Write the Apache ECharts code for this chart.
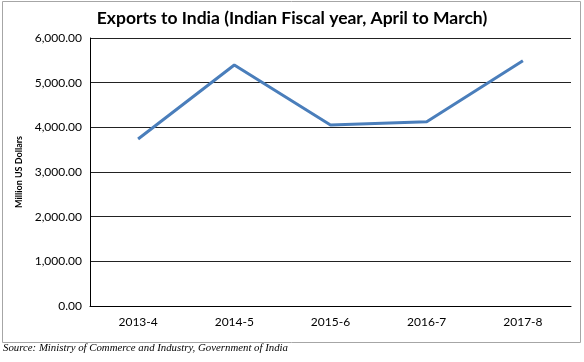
<!DOCTYPE html>
<html><head><meta charset="utf-8">
<script src="https://cdn.jsdelivr.net/npm/echarts@6/dist/echarts.min.js"></script>
<style>html,body{margin:0;padding:0;background:#fff}#c{width:584px;height:362px}</style>
</head><body><div id="c"></div>
<script>
var categories = ["2013-4", "2014-5", "2015-6", "2016-7", "2017-8"];
var exportsValues = [3740, 5395, 4050, 4125, 5490];
var yTicks = [0, 1000, 2000, 3000, 4000, 5000, 6000];
var titleText = "Exports to India (Indian Fiscal year, April to March)";
var yAxisName = "Million US Dollars";
var sourceText = "Source: Ministry of Commerce and Industry, Government of India";

var chart = echarts.init(document.getElementById('c'), null, {renderer: 'canvas'});
chart.setOption({
  animation: false,
  backgroundColor: '#fff',
  title: {
    text: titleText, left: 'center', top: 4,
    textStyle: {fontFamily: 'Lato', fontWeight: 'bold', fontSize: 17.5, color: '#000'}
  },
  grid: {left: 90, right: 13, top: 38, bottom: 56, containLabel: false},
  xAxis: {
    type: 'category', data: categories, boundaryGap: true,
    axisLine: {lineStyle: {color: '#000', width: 1}},
    axisTick: {show: false},
    axisLabel: {fontFamily: 'Lato', fontSize: 12, color: '#000', margin: 10}
  },
  yAxis: {
    type: 'value', min: yTicks[0], max: yTicks[yTicks.length - 1], interval: 1000,
    name: yAxisName, nameLocation: 'middle', nameGap: 61, nameRotate: 90,
    nameTextStyle: {fontFamily: 'Lato', fontWeight: 'bold', fontSize: 9, color: '#000'},
    axisLine: {show: true, lineStyle: {color: '#000', width: 1}},
    axisTick: {show: false},
    splitLine: {lineStyle: {color: '#222', width: 1}},
    axisLabel: {
      fontFamily: 'Lato', fontSize: 12, color: '#000', margin: 8,
      formatter: function (v) { return v.toLocaleString('en-US', {minimumFractionDigits: 2, maximumFractionDigits: 2}); }
    }
  },
  series: [{
    type: 'line', data: exportsValues, showSymbol: false, symbol: 'none',
    lineStyle: {color: '#4a7ebb', width: 3}
  }],
  graphic: [
    {type: 'rect', shape: {x: 2.5, y: 1.5, width: 578, height: 341},
     style: {fill: null, stroke: '#a6a6a6', lineWidth: 1}, z: -1},
    {type: 'text', left: 3, top: 343,
     style: {text: sourceText, font: 'italic 10.8px "Liberation Serif"', fill: '#000'}}
  ]
});
</script></body></html>
